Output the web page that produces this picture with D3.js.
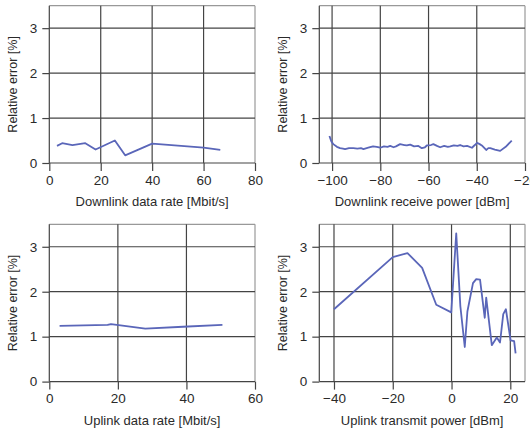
<!DOCTYPE html>
<html><head><meta charset="utf-8">
<script src="https://cdn.jsdelivr.net/npm/d3@7"></script>
<style>
html,body{margin:0;padding:0;background:#fff;}
svg{display:block;font-family:"Liberation Sans",Arial,sans-serif;}
</style></head>
<body>
<svg id="chart" width="530" height="430"></svg>
<script>
// Panel 1: downlink data rate
const dlRate = [3, 5, 9, 14, 18, 25.5, 29.5, 40, 60, 66.5];
const dlRateErr = [0.38, 0.44, 0.40, 0.44, 0.30, 0.50, 0.17, 0.43, 0.34, 0.29];
// Panel 2: downlink receive power
const dlPower = [-101.1,-100.3,-99.5,-98,-96.7,-95.5,-94.6,-93,-91.2,-89.5,-88,-87,-85,-83,-81.5,-80,-78.5,-77,-75.9,-74.5,-73.5,-71.8,-70,-69,-67.6,-66,-64.2,-62.8,-61.5,-60.7,-59,-58,-56.5,-55.2,-53.5,-52,-51,-49.5,-48,-46.9,-45.5,-44,-42,-40.8,-39.9,-38.8,-37.9,-36.1,-35.2,-34.4,-32.5,-30.3,-28,-25.5];
const dlPowerErr = [0.60,0.48,0.42,0.36,0.33,0.32,0.31,0.33,0.33,0.32,0.33,0.31,0.34,0.37,0.36,0.34,0.37,0.36,0.38,0.35,0.37,0.42,0.40,0.39,0.41,0.37,0.38,0.33,0.35,0.39,0.40,0.42,0.38,0.35,0.38,0.36,0.37,0.39,0.38,0.40,0.37,0.38,0.34,0.40,0.45,0.42,0.39,0.29,0.33,0.33,0.30,0.27,0.36,0.50];
// Panel 3: uplink data rate
const ulRate = [3, 17, 18, 28, 39, 50.5];
const ulRateErr = [1.24, 1.26, 1.28, 1.18, 1.22, 1.26];
// Panel 4: uplink transmit power
const ulPower = [-40,-20,-15,-10,-5.2,-0.1,1.6,3.0,4.5,5.4,7.3,8.4,9.7,11.3,11.8,13.7,15.4,16.5,17.6,18.5,20.1,21.3,21.8];
const ulPowerErr = [1.61,2.77,2.86,2.53,1.71,1.54,3.30,1.68,0.77,1.56,2.19,2.28,2.27,1.42,1.87,0.81,0.98,0.87,1.50,1.61,0.92,0.90,0.63];

const yTicks = [0, 1, 2, 3];
const yLabel = "Relative error [%]";

const panels = [
  {x: dlRate, y: dlRateErr, xDomain: [0, 80], xTicks: [0,20,40,60,80], label: "Downlink data rate [Mbit/s]", left: 49.3, top: 5.7},
  {x: dlPower, y: dlPowerErr, xDomain: [-105.3, -20], xTicks: [-100,-80,-60,-40,-20], label: "Downlink receive power [dBm]", left: 319.3, top: 5.7},
  {x: ulRate, y: ulRateErr, xDomain: [0, 60], xTicks: [0,20,40,60], label: "Uplink data rate [Mbit/s]", left: 49.3, top: 224.3},
  {x: ulPower, y: ulPowerErr, xDomain: [-45, 25], xTicks: [-40,-20,0,20], label: "Uplink transmit power [dBm]", left: 319.3, top: 224.3}
];
const W = 205.7, H = 157.3;
const gridColor = "#444", frameColor = "#999", lineColor = "#5a66b9", textColor = "#2a2a2a";
const svg = d3.select("#chart");
const fmt = d3.format("");

panels.forEach(p => {
  const g = svg.append("g").attr("transform", `translate(${p.left},${p.top})`);
  const x = d3.scaleLinear().domain(p.xDomain).range([0, W]);
  const y = d3.scaleLinear().domain([0, 3.5]).range([H, 0]);

  // frame top/right
  g.append("line").attr("x1",0).attr("x2",W).attr("y1",0).attr("y2",0).attr("stroke",frameColor).attr("stroke-width",1.2);
  g.append("line").attr("x1",W).attr("x2",W).attr("y1",0).attr("y2",H).attr("stroke",frameColor).attr("stroke-width",1.2);

  // grid
  g.append("g").selectAll("line").data(yTicks.filter(t => t > 0)).join("line")
    .attr("x1",0).attr("x2",W).attr("y1",d=>y(d)).attr("y2",d=>y(d))
    .attr("stroke",gridColor).attr("stroke-width",1.2);
  g.append("g").selectAll("line").data(p.xTicks.filter(t => t > p.xDomain[0] && t < p.xDomain[1])).join("line")
    .attr("x1",d=>x(d)).attr("x2",d=>x(d)).attr("y1",0).attr("y2",H)
    .attr("stroke",gridColor).attr("stroke-width",1.2);

  // axes
  const xa = g.append("g").attr("transform",`translate(0,${H})`)
    .call(d3.axisBottom(x).tickValues(p.xTicks).tickSize(8).tickSizeOuter(0).tickPadding(4).tickFormat(fmt));
  const ya = g.append("g")
    .call(d3.axisLeft(y).tickValues(yTicks).tickSize(7).tickSizeOuter(0).tickPadding(5).tickFormat(fmt));
  [xa, ya].forEach(a => {
    a.select(".domain").attr("stroke",gridColor).attr("stroke-width",1.2);
    a.selectAll(".tick line").attr("stroke",gridColor).attr("stroke-width",1.2);
    a.selectAll(".tick text").attr("fill",textColor).style("font-size","13.5px")
      .style("font-family",'"Liberation Sans",Arial,sans-serif');
  });
  ya.select(".domain").attr("d",`M0,${H}V0`);
  xa.select(".domain").attr("d",`M0,0H${W}`);

  // data line
  const pts = p.x.map((v,i) => [v, p.y[i]]);
  g.append("path").datum(pts)
    .attr("fill","none").attr("stroke",lineColor).attr("stroke-width",1.8)
    .attr("stroke-linejoin","round")
    .attr("d", d3.line().x(d=>x(d[0])).y(d=>y(d[1])));

  // labels
  g.append("text").attr("x",W/2).attr("y",H+43).attr("text-anchor","middle")
    .attr("fill",textColor).style("font-size","13px").text(p.label);
  g.append("text").attr("transform",`translate(${-37},${H/2}) rotate(-90)`)
    .attr("text-anchor","middle").attr("dy","0.35em")
    .attr("fill",textColor).style("font-size","12.5px").text(yLabel);
});
</script>
</body></html>
